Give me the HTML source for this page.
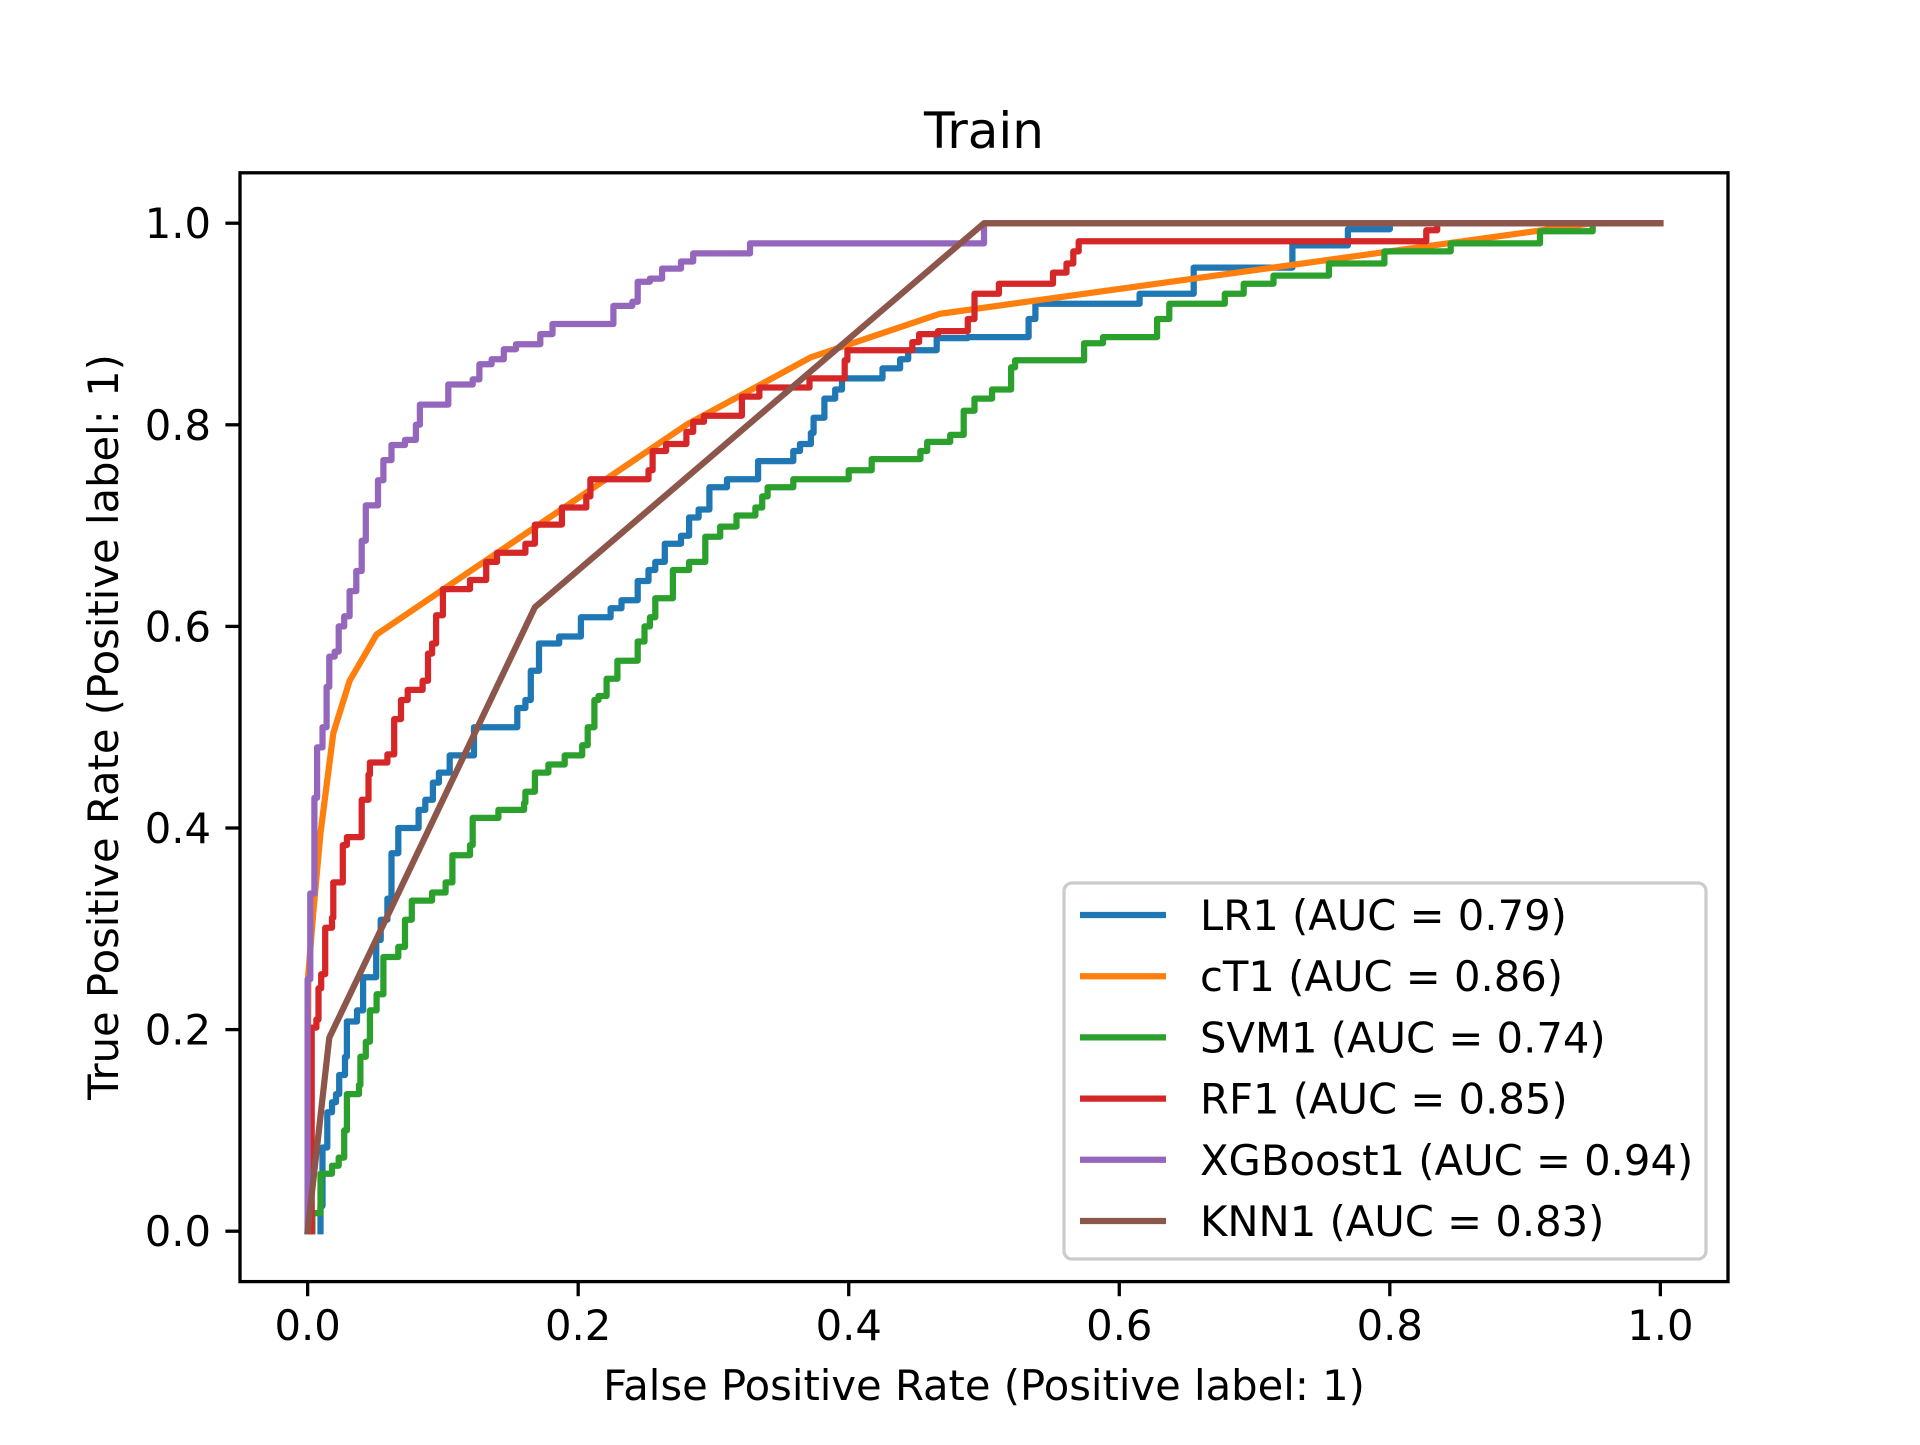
<!DOCTYPE html>
<html><head><meta charset="utf-8"><style>
html,body{margin:0;padding:0;background:#fff;}
svg text{font-family:"DejaVu Sans","Liberation Sans",sans-serif;fill:#000;}
</style></head><body>
<svg id="chart" width="1920" height="1440" viewBox="0 0 1920 1440" xmlns="http://www.w3.org/2000/svg">
<rect x="0" y="0" width="1920" height="1440" fill="#fff"/>
<text x="984" y="148" font-size="50" text-anchor="middle">Train</text>
<g id="plot"></g>
<rect x="240" y="172.8" width="1488" height="1108.8" fill="none" stroke="#000" stroke-width="3.3"/>
<g id="ticks"></g>
<text x="984" y="1400" font-size="41.7" text-anchor="middle">False Positive Rate (Positive label: 1)</text>
<text transform="translate(118,727) rotate(-90)" font-size="41.7" text-anchor="middle">True Positive Rate (Positive label: 1)</text>
<g id="legend"></g>
</svg>
<script>
const seriesNames = ["LR1 (AUC = 0.79)","cT1 (AUC = 0.86)","SVM1 (AUC = 0.74)","RF1 (AUC = 0.85)","XGBoost1 (AUC = 0.94)","KNN1 (AUC = 0.83)"];
const seriesColors = ["#1f77b4","#ff7f0e","#2ca02c","#d62728","#9467bd","#8c564b"];
const xTicks = [0,0.2,0.4,0.6,0.8,1.0];
const yTicks = [0,0.2,0.4,0.6,0.8,1.0];
const xTickLabels = ["0.0","0.2","0.4","0.6","0.8","1.0"];
const yTickLabels = ["0.0","0.2","0.4","0.6","0.8","1.0"];

const lrFpr = [0.0095,0.0095,0.011,0.0145,0.018,0.021,0.0233,0.0276,0.029,0.0365,0.041,0.0507,0.054,0.059,0.062,0.067,0.082,0.087,0.0926,0.097,0.105,0.123,0.155,0.161,0.165,0.171,0.186,0.202,0.224,0.232,0.244,0.252,0.257,0.264,0.276,0.282,0.289,0.297,0.310,0.333,0.359,0.364,0.372,0.374,0.382,0.390,0.395,0.425,0.438,0.444,0.465,0.488,0.533,0.538,0.615,0.655,0.728,0.769,0.80,1.0];
const lrTpr = [0,0.025,0.083,0.118,0.128,0.136,0.155,0.173,0.208,0.219,0.252,0.289,0.309,0.330,0.375,0.400,0.418,0.428,0.445,0.455,0.472,0.500,0.519,0.527,0.556,0.583,0.590,0.609,0.618,0.626,0.645,0.656,0.664,0.682,0.690,0.708,0.716,0.738,0.746,0.764,0.774,0.781,0.792,0.807,0.826,0.835,0.846,0.856,0.865,0.874,0.886,0.887,0.905,0.92,0.93,0.956,0.978,0.994,1.0,1.0];

const ctFpr = [0,0.0005,0.004,0.0095,0.019,0.031,0.051,0.28,0.372,0.467,0.95,1.0];
const ctTpr = [0,0.255,0.313,0.395,0.494,0.546,0.592,0.80,0.867,0.91,1.0,1.0];

const svmFpr = [0.0035,0.0035,0.0095,0.018,0.023,0.027,0.029,0.038,0.039,0.043,0.046,0.051,0.056,0.067,0.072,0.077,0.092,0.102,0.107,0.12,0.122,0.141,0.16,0.161,0.168,0.178,0.19,0.203,0.207,0.212,0.215,0.221,0.229,0.244,0.249,0.253,0.257,0.270,0.282,0.294,0.305,0.317,0.331,0.336,0.34,0.359,0.40,0.417,0.453,0.458,0.475,0.485,0.493,0.506,0.52,0.523,0.574,0.588,0.628,0.637,0.678,0.692,0.714,0.755,0.796,0.845,0.911,0.95,1.0];
const svmTpr = [0,0.018,0.057,0.065,0.073,0.1,0.136,0.145,0.173,0.188,0.219,0.235,0.272,0.282,0.309,0.328,0.336,0.346,0.373,0.383,0.41,0.418,0.425,0.436,0.455,0.463,0.472,0.482,0.5,0.527,0.531,0.548,0.566,0.585,0.600,0.609,0.628,0.656,0.664,0.689,0.699,0.710,0.718,0.729,0.738,0.746,0.755,0.766,0.774,0.783,0.79,0.814,0.826,0.835,0.857,0.864,0.881,0.887,0.905,0.92,0.93,0.94,0.948,0.96,0.972,0.98,0.992,1.0,1.0];

const rfFpr = [0.003,0.003,0.0065,0.008,0.010,0.013,0.018,0.019,0.026,0.029,0.04,0.045,0.046,0.059,0.064,0.069,0.074,0.085,0.089,0.092,0.095,0.100,0.120,0.132,0.14,0.161,0.168,0.188,0.206,0.209,0.252,0.255,0.265,0.280,0.285,0.293,0.321,0.334,0.371,0.397,0.399,0.447,0.452,0.466,0.488,0.493,0.511,0.551,0.561,0.566,0.57,0.827,0.835,1.0];
const rfTpr = [0,0.202,0.21,0.241,0.255,0.301,0.311,0.346,0.383,0.391,0.428,0.453,0.465,0.473,0.508,0.527,0.537,0.546,0.573,0.583,0.611,0.637,0.646,0.664,0.673,0.682,0.701,0.718,0.729,0.746,0.755,0.774,0.781,0.793,0.803,0.809,0.828,0.837,0.846,0.864,0.874,0.882,0.890,0.893,0.905,0.93,0.94,0.951,0.96,0.972,0.982,0.993,1.0,1.0];

const xgbFpr = [0,0,0.002,0.005,0.007,0.011,0.014,0.016,0.020,0.023,0.027,0.031,0.036,0.040,0.043,0.050,0.052,0.056,0.062,0.072,0.080,0.083,0.099,0.104,0.122,0.127,0.136,0.145,0.154,0.172,0.181,0.222,0.226,0.240,0.244,0.253,0.262,0.276,0.285,0.324,0.327,0.495,0.5,1.0];
const xgbTpr = [0,0.25,0.335,0.43,0.48,0.50,0.54,0.57,0.575,0.60,0.61,0.635,0.655,0.685,0.72,0.72,0.745,0.765,0.78,0.785,0.80,0.82,0.82,0.84,0.845,0.86,0.865,0.875,0.88,0.89,0.90,0.90,0.918,0.922,0.942,0.945,0.955,0.962,0.97,0.97,0.98,0.98,1.0,1.0];

const knnFpr = [0,0.016,0.168,0.5,1.0];
const knnTpr = [0,0.192,0.619,1.0,1.0];

const allFpr = [lrFpr,ctFpr,svmFpr,rfFpr,xgbFpr,knnFpr];
const allTpr = [lrTpr,ctTpr,svmTpr,rfTpr,xgbTpr,knnTpr];
const stepped = [true,false,true,true,true,false];
const dataNames = ["lr1-curve","ct1-curve","svm1-curve","rf1-curve","xgboost1-curve","knn1-curve"];

const NS = "http://www.w3.org/2000/svg";
const axL = 240, axW = 1488, axT = 172.8, axH = 1108.8;
function sx(v){ return axL + (v + 0.05) / 1.1 * axW; }
function sy(v){ return axT + (1.05 - v) / 1.1 * axH; }

const plot = document.getElementById('plot');
for (let s = 0; s < allFpr.length; s++) {
  const xs = allFpr[s], ys = allTpr[s];
  let d = "M" + sx(xs[0]).toFixed(1) + "," + sy(ys[0]).toFixed(1);
  for (let i = 1; i < xs.length; i++) {
    if (stepped[s]) {
      d += " L" + sx(xs[i]).toFixed(1) + "," + sy(ys[i-1]).toFixed(1);
    }
    d += " L" + sx(xs[i]).toFixed(1) + "," + sy(ys[i]).toFixed(1);
  }
  const p = document.createElementNS(NS, 'path');
  p.setAttribute('d', d);
  p.setAttribute('fill', 'none');
  p.setAttribute('stroke', seriesColors[s]);
  p.setAttribute('stroke-width', '6.25');
  p.setAttribute('stroke-linejoin', 'round');
  p.setAttribute('stroke-linecap', 'square');
  
  
  plot.appendChild(p);
}

const ticks = document.getElementById('ticks');
for (let i = 0; i < xTicks.length; i++) {
  const x = sx(xTicks[i]);
  const t = document.createElementNS(NS, 'line');
  t.setAttribute('x1', x); t.setAttribute('x2', x);
  t.setAttribute('y1', 1281.6); t.setAttribute('y2', 1296.2);
  t.setAttribute('stroke', '#000'); t.setAttribute('stroke-width', '3.3');
  
  
  ticks.appendChild(t);
  const l = document.createElementNS(NS, 'text');
  l.setAttribute('x', x); l.setAttribute('y', 1340);
  l.setAttribute('font-size', '41.7'); l.setAttribute('text-anchor', 'middle');
  l.textContent = xTickLabels[i];
  
  
  ticks.appendChild(l);
}
for (let i = 0; i < yTicks.length; i++) {
  const y = sy(yTicks[i]);
  const t = document.createElementNS(NS, 'line');
  t.setAttribute('x1', 225.4); t.setAttribute('x2', 240);
  t.setAttribute('y1', y); t.setAttribute('y2', y);
  t.setAttribute('stroke', '#000'); t.setAttribute('stroke-width', '3.3');
  
  
  ticks.appendChild(t);
  const l = document.createElementNS(NS, 'text');
  l.setAttribute('x', 211); l.setAttribute('y', y + 15);
  l.setAttribute('font-size', '41.7'); l.setAttribute('text-anchor', 'end');
  l.textContent = yTickLabels[i];
  
  
  ticks.appendChild(l);
}

const legend = document.getElementById('legend');
const box = document.createElementNS(NS, 'rect');
box.setAttribute('x', 1064); box.setAttribute('y', 883);
box.setAttribute('width', 642); box.setAttribute('height', 376);
box.setAttribute('rx', 8); box.setAttribute('fill', '#fff'); box.setAttribute('fill-opacity', '0.8');
box.setAttribute('stroke', '#cccccc'); box.setAttribute('stroke-width', '3.3');


legend.appendChild(box);
for (let s = 0; s < seriesNames.length; s++) {
  const y = 915 + s * 61.2;
  const ln = document.createElementNS(NS, 'line');
  ln.setAttribute('x1', 1080); ln.setAttribute('x2', 1166);
  ln.setAttribute('y1', y); ln.setAttribute('y2', y);
  ln.setAttribute('stroke', seriesColors[s]); ln.setAttribute('stroke-width', '6.25');
  
  
  legend.appendChild(ln);
  const tx = document.createElementNS(NS, 'text');
  tx.setAttribute('x', 1200); tx.setAttribute('y', y + 15);
  tx.setAttribute('font-size', '41.7');
  tx.textContent = seriesNames[s];
  
  
  legend.appendChild(tx);
}
</script>
</body></html>
